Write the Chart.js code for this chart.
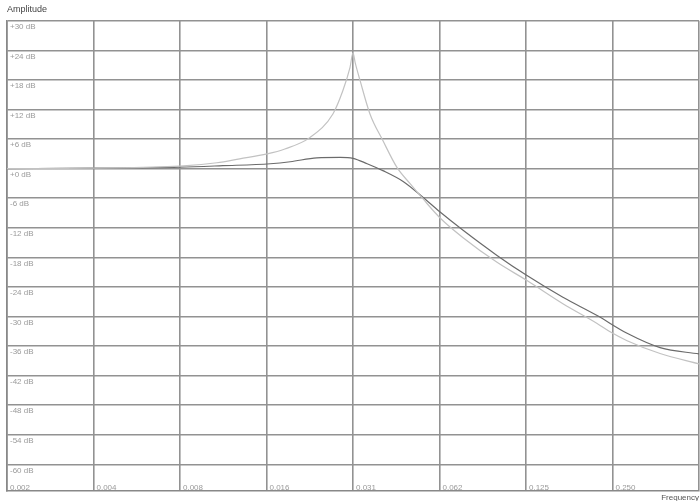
<!DOCTYPE html>
<html>
<head>
<meta charset="utf-8">
<script src="https://cdn.jsdelivr.net/npm/chart.js@4/dist/chart.umd.min.js"></script>
<style>
  html, body { margin: 0; padding: 0; background: #fff; }
  #wrap { width: 700px; height: 501px; }
</style>
</head>
<body>
<div id="wrap"><canvas id="chart"></canvas></div>
<script>
// frequency axis (octaves of 0.5) and amplitude axis
const xTicks = [0.001953125, 0.00390625, 0.0078125, 0.015625, 0.03125, 0.0625, 0.125, 0.25, 0.5];
const xLabels = ["0.002", "0.004", "0.008", "0.016", "0.031", "0.062", "0.125", "0.250", ""];
const yTicks = [30, 24, 18, 12, 6, 0, -6, -12, -18, -24, -30, -36, -42, -48, -54, -60];

// resonant response (light curve)
const lightFreq = [0.00195, 0.0039, 0.0078, 0.0105, 0.0126, 0.0157, 0.0181, 0.0221, 0.0266, 0.0288,
  0.0305, 0.03125, 0.0318, 0.0331, 0.0358, 0.0397, 0.0445, 0.0493, 0.0547, 0.0628, 0.0755, 0.0991,
  0.126, 0.168, 0.221, 0.247, 0.281, 0.366, 0.5];
const lightDb = [0, 0.1, 0.5, 1.2, 2.0, 3.0, 4.0, 6.3, 11.1, 15.8,
  20.5, 23.5, 21.5, 17.8, 11.1, 5.7, 0.2, -3.0, -6.1, -10.0, -14.0, -19.0,
  -22.7, -27.4, -31.4, -33.2, -34.9, -37.5, -39.6];

// damped response (dark curve)
const darkFreq = [0.00195, 0.0039, 0.0078, 0.0110, 0.0161, 0.0189, 0.0234, 0.0282, 0.03125, 0.0350,
  0.0397, 0.0467, 0.0547, 0.0628, 0.0755, 0.0991, 0.126, 0.168, 0.221, 0.281, 0.366, 0.5];
const darkDb = [0, 0.1, 0.3, 0.6, 1.0, 1.4, 2.2, 2.3, 2.1, 1.0,
  -0.4, -2.6, -5.8, -8.8, -12.5, -17.6, -21.7, -26.1, -29.8, -33.4, -36.3, -37.6];

const toPoints = (xs, ys) => xs.map((x, i) => ({ x: x, y: ys[i] }));
const font = "Liberation Sans, Arial, sans-serif";

new Chart(document.getElementById("chart"), {
  type: "line",
  data: {
    datasets: [
      {
        label: "resonant",
        data: toPoints(lightFreq, lightDb),
        borderColor: "#c2c2c2",
        borderWidth: 1.2,
        pointRadius: 0,
        cubicInterpolationMode: "monotone"
      },
      {
        label: "damped",
        data: toPoints(darkFreq, darkDb),
        borderColor: "#6b6b6b",
        borderWidth: 1.2,
        pointRadius: 0,
        cubicInterpolationMode: "monotone"
      }
    ]
  },
  options: {
    responsive: true,
    maintainAspectRatio: false,
    animation: false,
    layout: { padding: { left: 7, right: 1, top: 0, bottom: 0 } },
    plugins: {
      legend: { display: false },
      tooltip: { enabled: false },
      title: {
        display: true,
        text: "Amplitude",
        align: "start",
        color: "#444",
        font: { family: font, size: 9, weight: "normal" },
        padding: { top: 4, bottom: 6 }
      }
    },
    scales: {
      x: {
        type: "logarithmic",
        min: xTicks[0],
        max: xTicks[xTicks.length - 1],
        afterBuildTicks: scale => { scale.ticks = xTicks.map(v => ({ value: v })); },
        afterFit: scale => {
          scale.height = 10;
          scale.paddingLeft = 0;
          scale.paddingRight = 0;
        },
        grid: { color: "#929292", lineWidth: 1.6, drawTicks: false },
        border: { display: true, color: "#888", width: 1.6 },
        ticks: {
          autoSkip: false,
          maxRotation: 0,
          mirror: true,
          align: "start",
          labelOffset: 3,
          padding: -2,
          color: "#9a9a9a",
          font: { family: font, size: 8 },
          callback: (v, i) => xLabels[i]
        },
        title: {
          display: true,
          text: "Frequency",
          align: "end",
          color: "#555",
          font: { family: font, size: 8 },
          padding: { top: 0, bottom: -2 }
        }
      },
      y: {
        type: "linear",
        min: -65.4,
        max: 30,
        afterBuildTicks: scale => { scale.ticks = yTicks.map(v => ({ value: v })); },
        afterFit: scale => { scale.width = 0; },
        grid: { color: "#929292", lineWidth: 1.6, drawTicks: false },
        border: { display: true, color: "#888", width: 1.6 },
        ticks: {
          mirror: true,
          padding: 3,
          labelOffset: 6,
          color: "#9a9a9a",
          font: { family: font, size: 8 },
          callback: v => (v >= 0 ? "+" + v : "" + v) + " dB"
        }
      }
    }
  }
});
</script>
</body>
</html>
